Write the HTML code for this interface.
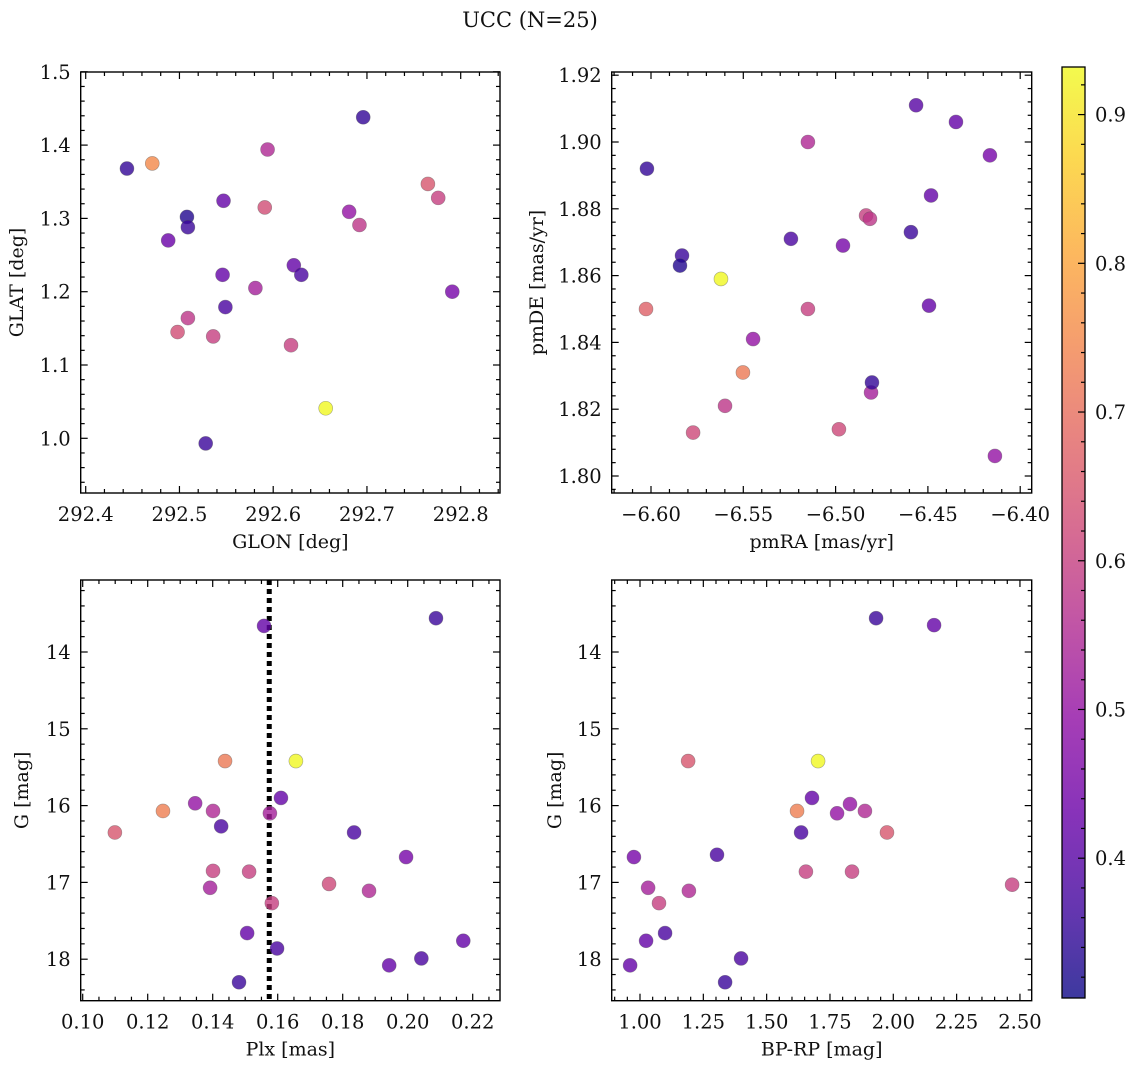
<!DOCTYPE html>
<html><head><meta charset="utf-8">
<style>
html,body{margin:0;padding:0;background:#fff;}
svg{display:block;font-family:"DejaVu Serif","Liberation Serif",serif;}
</style></head>
<body>
<svg id="fig" width="1136" height="1067" viewBox="0 0 1136 1067" xmlns="http://www.w3.org/2000/svg">
<text x="530" y="27" font-size="21" text-anchor="middle" fill="#111">UCC (N=25)</text>
</svg>
<script>
// ---- data (one array per quantity) ----
const glon = [292.444,292.471,292.508,292.509,292.488,292.547,292.546,292.549,292.509,292.498,292.536,292.528,292.594,292.591,292.581,292.622,292.630,292.619,292.656,292.696,292.681,292.692,292.765,292.776,292.791];
const glat = [1.368,1.375,1.302,1.288,1.270,1.324,1.223,1.179,1.164,1.145,1.139,0.993,1.394,1.315,1.205,1.236,1.223,1.127,1.041,1.438,1.309,1.291,1.347,1.328,1.200];
const probA = [0.35,0.75,0.33,0.36,0.43,0.42,0.42,0.38,0.58,0.63,0.60,0.36,0.55,0.63,0.53,0.42,0.38,0.60,0.93,0.35,0.50,0.58,0.65,0.60,0.45];

const pmra = [-6.6022,-6.5832,-6.5843,-6.5621,-6.6027,-6.5150,-6.5242,-6.4960,-6.5150,-6.5447,-6.5502,-6.5599,-6.5772,-6.4835,-6.4814,-6.4982,-6.4808,-6.4803,-6.4564,-6.4348,-6.4164,-6.4483,-6.4592,-6.4494,-6.4137];
const pmde = [1.892,1.866,1.863,1.859,1.850,1.900,1.871,1.869,1.850,1.841,1.831,1.821,1.813,1.878,1.877,1.814,1.825,1.828,1.911,1.906,1.896,1.884,1.873,1.851,1.806];
const probB = [0.35,0.36,0.33,0.93,0.67,0.55,0.38,0.45,0.60,0.50,0.72,0.58,0.62,0.60,0.58,0.62,0.53,0.35,0.40,0.42,0.45,0.42,0.36,0.42,0.50];

const plx = [0.1558,0.2087,0.1438,0.1656,0.1247,0.1099,0.1346,0.1401,0.1610,0.1576,0.1835,0.1426,0.1401,0.1512,0.1392,0.1758,0.1881,0.1995,0.1582,0.1506,0.1598,0.1481,0.1943,0.2042,0.2171];
const gmagC = [13.66,13.56,15.42,15.42,16.07,16.35,15.97,16.07,15.90,16.10,16.35,16.27,16.85,16.86,17.07,17.02,17.11,16.67,17.27,17.66,17.86,18.30,18.08,17.99,17.76];
const probC = [0.42,0.36,0.72,0.93,0.73,0.65,0.50,0.55,0.42,0.53,0.38,0.38,0.60,0.60,0.53,0.62,0.55,0.45,0.60,0.42,0.38,0.36,0.42,0.38,0.42];
const plxMedian = 0.1574;

const bprp = [1.932,2.161,1.190,1.703,1.679,1.620,1.829,1.888,1.778,1.636,1.975,0.976,1.304,1.032,1.193,1.075,1.099,1.024,1.399,0.961,1.336,1.655,1.837,2.469];
const gmagD = [13.56,13.65,15.42,15.42,15.90,16.07,15.98,16.07,16.10,16.35,16.35,16.67,16.64,17.07,17.11,17.27,17.66,17.76,17.99,18.08,18.30,16.86,16.86,17.03];
const probD = [0.36,0.42,0.65,0.93,0.42,0.73,0.50,0.55,0.50,0.38,0.65,0.45,0.38,0.53,0.55,0.60,0.38,0.42,0.38,0.42,0.36,0.60,0.60,0.60];

const cbTicks = [0.4,0.5,0.6,0.7,0.8,0.9];

// ---- helpers ----
const NS='http://www.w3.org/2000/svg';
const svg=document.getElementById('fig');
function mk(tag,attrs,parent){const e=document.createElementNS(NS,tag);for(const k in attrs)e.setAttribute(k,attrs[k]);(parent||svg).appendChild(e);return e;}
const cmin=0.306,cmax=0.932;
const stops=[[13,8,135],[65,4,157],[106,0,168],[143,13,164],[177,42,144],[204,71,120],[225,100,98],[242,132,75],[252,166,54],[252,206,37],[240,249,33]];
function plasma(t){t=Math.max(0,Math.min(1,t));const f=t*10,i=Math.min(9,Math.floor(f)),r=f-i;const a=stops[i],b=stops[i+1];return 'rgb('+[0,1,2].map(k=>Math.round(a[k]+(b[k]-a[k])*r)).join(',')+')';}
function cval(v){return plasma((v-cmin)/(cmax-cmin));}
const TF=19.5, LF=19;

function panel(cfg){
  const g=mk('g',{});
  
  
  const {L,R,T,B}=cfg;
  const sx=v=>cfg.x0p+(v-cfg.x0)*cfg.xs;
  const sy=v=>cfg.y0p+(v-cfg.y0)*cfg.ys;
  const xlo=cfg.xmin, xhi=cfg.xmax;
  for(let k=Math.ceil((xlo)/cfg.xminor-1e-9);k*cfg.xminor<=xhi+1e-9;k++){
    const v=k*cfg.xminor;const p=sx(v);if(p<L-0.5||p>R+0.5)continue;
    const major=Math.abs(v/cfg.xmajor-Math.round(v/cfg.xmajor))<1e-6;const len=major?7:4;
    mk('line',{x1:p,x2:p,y1:B,y2:B-len,stroke:'#000','stroke-width':1.2},g);
    mk('line',{x1:p,x2:p,y1:T,y2:T+len,stroke:'#000','stroke-width':1.2},g);
  }
  const ylo=Math.min(cfg.ymin,cfg.ymax),yhi=Math.max(cfg.ymin,cfg.ymax);
  for(let k=Math.ceil(ylo/cfg.yminor-1e-9);k*cfg.yminor<=yhi+1e-9;k++){
    const v=k*cfg.yminor;const p=sy(v);if(p<T-0.5||p>B+0.5)continue;
    const major=Math.abs(v/cfg.ymajor-Math.round(v/cfg.ymajor))<1e-6;const len=major?7:4;
    mk('line',{y1:p,y2:p,x1:L,x2:L+len,stroke:'#000','stroke-width':1.2},g);
    mk('line',{y1:p,y2:p,x1:R,x2:R-len,stroke:'#000','stroke-width':1.2},g);
  }
  cfg.xticks.forEach(v=>{
    const t=mk('text',{x:sx(v),y:B+28,'font-size':TF,'text-anchor':'middle',fill:'#111'},g);
    t.textContent=cfg.xfmt(v);
    
    
  });
  cfg.yticks.forEach(v=>{
    const t=mk('text',{x:L-10,y:sy(v)+7,'font-size':TF,'text-anchor':'end',fill:'#111'},g);
    t.textContent=cfg.yfmt(v);
    
    
  });
  const xl=mk('text',{x:(L+R)/2,y:B+55,'font-size':LF,'text-anchor':'middle',fill:'#111'},g);
  xl.textContent=cfg.xlabel;
  
  
  const yx=cfg.ylabx, yy=(T+B)/2;
  const yl=mk('text',{x:yx,y:yy,'font-size':LF,'text-anchor':'middle',fill:'#111',transform:'rotate(-90 '+yx+' '+yy+')'},g);
  yl.textContent=cfg.ylabel;
  
  
  if(cfg.vline!==undefined){
    const l=mk('line',{x1:sx(cfg.vline),x2:sx(cfg.vline),y1:T,y2:B,stroke:'#000','stroke-width':5,'stroke-dasharray':'5,4'},g);
    
    
  }
  for(let i=0;i<cfg.xs_.length;i++){
    const c=mk('circle',{cx:sx(cfg.xs_[i]),cy:sy(cfg.ys_[i]),r:7,fill:cval(cfg.cs[i]),'fill-opacity':0.8,stroke:'#555','stroke-opacity':0.5,'stroke-width':0.6},g);
    
    
  }
  const fr=mk('rect',{x:L,y:T,width:R-L,height:B-T,fill:'none',stroke:'#000','stroke-width':1.4},g);
  
  
}
const f1=v=>v.toFixed(1), f2=v=>v.toFixed(2), fm2=v=>(v<0?'\u2212':'')+Math.abs(v).toFixed(2), f0=v=>v.toFixed(0);

panel({name:'glon-glat-panel',L:80.7,R:500,T:72,B:493,x0:292.4,x0p:85.7,xs:937.5,y0:1.0,y0p:438.3,ys:-733,
  xmin:292.39,xmax:292.85,ymin:0.92,ymax:1.51,xminor:0.02,xmajor:0.1,yminor:0.02,ymajor:0.1,
  xticks:[292.4,292.5,292.6,292.7,292.8],yticks:[1.0,1.1,1.2,1.3,1.4,1.5],xfmt:f1,yfmt:f1,
  xlabel:'GLON [deg]',ylabel:'GLAT [deg]',ylabx:23,xs_:glon,ys_:glat,cs:probA});
panel({name:'pmra-pmde-panel',L:611.7,R:1031.7,T:72,B:493,x0:-6.60,x0p:651,xs:1846,y0:1.80,y0p:476,ys:-3340,
  xmin:-6.62,xmax:-6.39,ymin:1.79,ymax:1.93,xminor:0.01,xmajor:0.05,yminor:0.004,ymajor:0.02,
  xticks:[-6.60,-6.55,-6.50,-6.45,-6.40],yticks:[1.80,1.82,1.84,1.86,1.88,1.90,1.92],xfmt:fm2,yfmt:f2,
  xlabel:'pmRA [mas/yr]',ylabel:'pmDE [mas/yr]',ylabx:543,xs_:pmra,ys_:pmde,cs:probB});
panel({name:'plx-g-panel',L:80.7,R:500,T:580,B:1000.7,x0:0.10,x0p:82.7,xs:3250,y0:14,y0p:652,ys:76.8,
  xmin:0.09,xmax:0.235,ymin:13,ymax:18.6,xminor:0.005,xmajor:0.02,yminor:0.2,ymajor:1,
  xticks:[0.10,0.12,0.14,0.16,0.18,0.20,0.22],yticks:[14,15,16,17,18],xfmt:f2,yfmt:f0,
  xlabel:'Plx [mas]',ylabel:'G [mag]',ylabx:28,vline:plxMedian,xs_:plx,ys_:gmagC,cs:probC});
panel({name:'bprp-g-panel',L:611.7,R:1031.7,T:580,B:1000.7,x0:1.0,x0p:640,xs:253.3,y0:14,y0p:652,ys:76.8,
  xmin:0.85,xmax:2.6,ymin:13,ymax:18.6,xminor:0.05,xmajor:0.25,yminor:0.2,ymajor:1,
  xticks:[1.0,1.25,1.5,1.75,2.0,2.25,2.5],yticks:[14,15,16,17,18],xfmt:f2,yfmt:f0,
  xlabel:'BP-RP [mag]',ylabel:'G [mag]',ylabx:561,xs_:bprp,ys_:gmagD,cs:probD});

// ---- colorbar ----
const cb=mk('g',{});


const defs=mk('defs',{},cb);
const lg=mk('linearGradient',{id:'cbg',x1:0,y1:1,x2:0,y2:0},defs);
for(let i=0;i<=20;i++){mk('stop',{offset:(i/20),'stop-color':plasma(i/20),'stop-opacity':0.8},lg);}
const CT=67,CB=998,CL=1062,CR=1085;
mk('rect',{x:CL,y:CT,width:CR-CL,height:CB-CT,fill:'url(#cbg)'},cb);
const cy=v=>CB-(v-cmin)/(cmax-cmin)*(CB-CT);
for(let k=32;k<=92;k+=2){const v=k/100;const p=cy(v);const major=k%10===0;
  mk('line',{x1:CR,x2:CR-(major?7:4),y1:p,y2:p,stroke:'#000','stroke-width':1.2},cb);}
cbTicks.forEach(v=>{const t=mk('text',{x:CR+10,y:cy(v)+7,'font-size':TF,fill:'#111'},cb);t.textContent=v.toFixed(1);
  
  });
mk('rect',{x:CL,y:CT,width:CR-CL,height:CB-CT,fill:'none',stroke:'#000','stroke-width':1.3},cb);
</script>
</body></html>
